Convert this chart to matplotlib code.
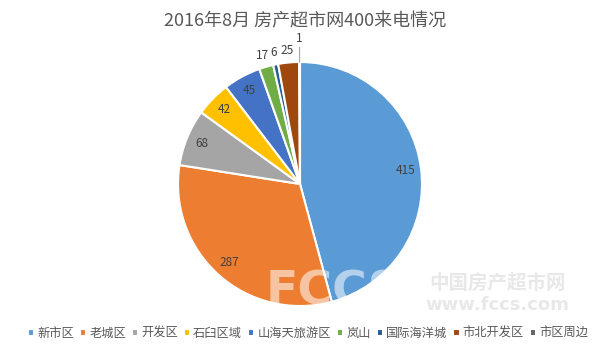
import numpy as np
import matplotlib.pyplot as plt

plt.rcParams['font.family'] = ['Noto Sans CJK SC', 'DejaVu Sans']

districts = ['新市区', '老城区', '开发区', '石臼区域', '山海天旅游区', '岚山', '国际海洋城', '市北开发区', '市区周边']
calls = [415, 287, 68, 42, 45, 17, 6, 25, 1]
colors = ['#5B9BD5', '#ED7D31', '#A5A5A5', '#FFC000', '#4472C4', '#70AD47', '#255E91', '#9E480E', '#636363']
outside = [False, False, False, False, False, True, True, True, True]

fig = plt.figure(figsize=(6.1, 3.5), dpi=100)
fig.patch.set_facecolor('white')

fig.text(0.5, 0.94, '2016年8月 房产超市网400来电情况', ha='center', va='center',
         fontsize=13, color='#595959')

ax = fig.add_axes([178 / 610, 44 / 350, 244 / 610, 244 / 350])
wedges, _ = ax.pie(calls, colors=colors, startangle=90, counterclock=False, radius=1,
                   wedgeprops=dict(edgecolor='white', linewidth=1.5))
ax.set_xlim(-1, 1)
ax.set_ylim(-1, 1)
ax.set_aspect('equal')
ax.axis('off')

for w, v, out in zip(wedges, calls, outside):
    ang = np.deg2rad((w.theta1 + w.theta2) / 2)
    if not out:
        r = 0.87
        ax.text(r * np.cos(ang), r * np.sin(ang), str(v), ha='center', va='center',
                fontsize=8.5, color='#404040')
    elif v == 1:
        ax.plot([np.cos(ang), 1.12 * np.cos(ang)], [np.sin(ang), 1.12 * np.sin(ang)],
                color='#a6a6a6', lw=0.8, clip_on=False)
        ax.text(1.19 * np.cos(ang), 1.19 * np.sin(ang), str(v), ha='center', va='center',
                fontsize=8.5, color='#404040')
    else:
        r = 1.1
        ax.text(r * np.cos(ang), r * np.sin(ang), str(v), ha='center', va='center',
                fontsize=8.5, color='#404040')

# watermark
fig.text(0.548, 0.165, 'FCCS', ha='center', va='center', fontsize=34, fontweight='bold',
         color='white', alpha=0.55, family='DejaVu Sans')
fig.text(0.815, 0.19, '中国房产超市网', ha='center', va='center', fontsize=14,
         color='#e8e8e8', fontweight='bold')
fig.text(0.815, 0.128, 'www.fccs.com', ha='center', va='center', fontsize=13,
         color='#e8e8e8', fontweight='bold', family='DejaVu Sans')

leg = fig.legend(wedges, districts, loc='center', bbox_to_anchor=(0.505, 0.048), ncol=9,
                 frameon=False, fontsize=8.8, handlelength=0.5, handleheight=0.5,
                 handletextpad=0.25, columnspacing=0.5, borderpad=0)
for t in leg.get_texts():
    t.set_color('#595959')

fig.savefig('out.png', dpi=100)
